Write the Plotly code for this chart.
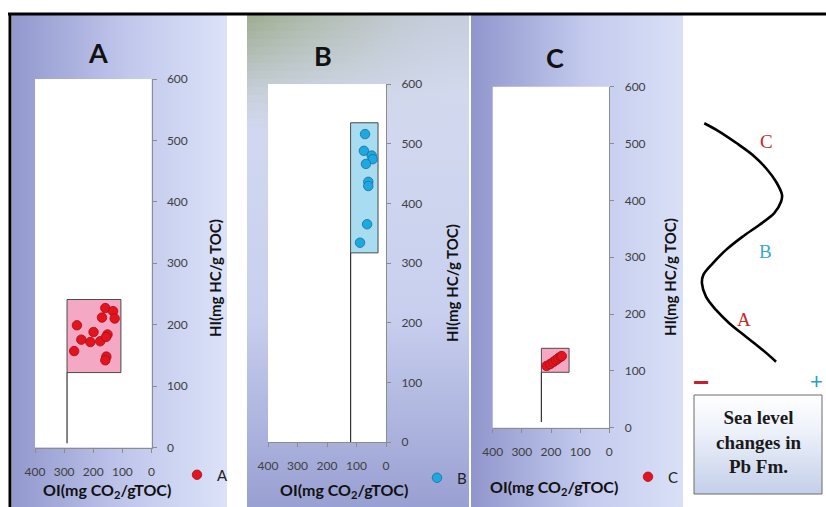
import plotly.graph_objects as go

# ---------------- data ----------------
oi_A = [158.6, 132, 170, 126.5, 256, 199, 151, 241, 210, 176, 156, 265.5, 155, 158.6]
hi_A = [227, 222, 211.5, 210, 199, 188, 184, 175.6, 171.7, 173, 180, 157, 148, 142]
oi_B = [71, 75, 48.5, 45, 68, 60, 60, 64, 88]
hi_B = [516, 488, 480, 474, 466, 436, 429, 365, 334]
oi_C = [215, 203, 192, 183, 175, 167, 163]
hi_C = [108.6, 112, 115.6, 119, 122, 125, 126]

# range boxes (OI left/right, HI bottom/top) and the stem below each box
box_oi = {"A": [290, 105], "B": [120, 27], "C": [233, 138]}
box_hi = {"A": [122, 241], "B": [317, 535], "C": [97.5, 139.7]}
stem_hi0 = {"A": 7, "B": 0, "C": 10}

oi_ticks = [400, 300, 200, 100, 0]
hi_ticks = [0, 100, 200, 300, 400, 500, 600]

# sea-level sketch (relative units: x = sea level -/+, y = time upward)
sea_x = [1.10, 2.25, 3.54, 4.82, 5.85, 6.62, 7.08, 7.0, 6.48, 5.33, 4.05, 2.77,
         1.75, 1.02, 0.92, 1.23, 2.0, 3.02, 4.31, 5.59, 6.62]
sea_y = [9.49, 9.17, 8.74, 8.27, 7.76, 7.24, 6.73, 6.47, 6.03, 5.58, 5.13, 4.62,
         4.10, 3.65, 3.33, 2.82, 2.31, 1.80, 1.28, 0.77, 0.32]
sea_labels = ["A", "B", "C"]
sea_label_x = [4.15, 5.77, 5.92]
sea_label_y = [1.96, 4.54, 8.77]

# ---------------- layout geometry (pixels) ----------------
W, H = 826, 507
def px(x): return x / W
def py(y): return 1 - y / H

geo = {"A": (35, 151.5, 79, 447.5), "B": (268, 386, 84, 442), "C": (492.7, 609.3, 86.7, 427.7)}
panel_bg = {"A": (12, 227), "B": (247, 469), "C": (471, 683)}

FONT = "Lato"
red = "#e4141e"
red_edge = "#a50f15"
blue = "#1ea8e0"
blue_edge = "#1b6f9c"
pink = "#f5a8c4"
cyan = "#a8dcf1"

fig = go.Figure()

def rect(x0, x1, y0, y1):
    return [x0, x1, x1, x0, x0], [y0, y0, y1, y1, y0]

def deco(xs, ys, **kw):
    fig.add_trace(go.Scatter(x=xs, y=ys, mode="lines", fill="toself", hoverinfo="skip",
                             showlegend=False, xaxis="x", yaxis="y", **kw))

# background decoration on a full-figure pixel axis
grads = {
    "A": dict(type="horizontal", colorscale=[[0, "#9298cd"], [0.55, "#c2c8ec"], [1, "#dbe2f8"]]),
    "B": dict(type="vertical", start=15, stop=507,
              colorscale=[[0, "#c6cddc"], [0.16, "#d2d9ee"], [0.6, "#c9d0ef"], [1, "#99a0d2"]]),
    "C": dict(type="horizontal", colorscale=[[0, "#9096cc"], [0.55, "#c4cbee"], [1, "#d9e0f6"]]),
}
for k in ["A", "B", "C"]:
    x0, x1 = panel_bg[k]
    xs, ys = rect(x0, x1, 15, 507)
    deco(xs, ys, line=dict(width=0), fillgradient=grads[k])
    if k == "B":
        # greenish haze fading downward from the upper-left corner of panel B
        n = 14
        for j in range(n):
            a = 0.8 * (1 - j / n) ** 1.3
            xs, ys = rect(x0, x1, 15 + j * 8, 15 + (j + 1) * 8)
            deco(xs, ys, line=dict(width=0),
                 fillgradient=dict(type="horizontal",
                                   colorscale=[[0, f"rgba(150,166,128,{a:.3f})"],
                                               [0.5, f"rgba(172,184,160,{a * 0.55:.3f})"],
                                               [1, "rgba(200,208,225,0.0)"]]))
    l, r, t, b = geo[k]
    xs, ys = rect(l, r, t, b)
    deco(xs, ys, line=dict(width=0), fillcolor="white")

# sea-level caption box
xs, ys = rect(694, 822, 395, 494)
deco(xs, ys, line=dict(width=1, color="#6b6b6b"),
     fillgradient=dict(type="vertical", start=395, stop=494,
                       colorscale=[[0, "#ffffff"], [0.35, "#eef2fa"], [1, "#c3cfe9"]]))

series = {
    "A": (oi_A, hi_A, red, red_edge, pink, "legend"),
    "B": (oi_B, hi_B, blue, blue_edge, cyan, "legend2"),
    "C": (oi_C, hi_C, red, red_edge, pink, "legend3"),
}

for i, k in enumerate(["A", "B", "C"], start=2):
    oi, hi, col, edge, bfill, leg = series[k]
    xa, ya = f"x{i}", f"y{i}"
    bx, by = rect(box_oi[k][0], box_oi[k][1], box_hi[k][0], box_hi[k][1])
    fig.add_trace(go.Scatter(x=bx, y=by, mode="lines", fill="toself", fillcolor=bfill,
                             line=dict(color="#4a4a4a", width=1), hoverinfo="skip",
                             showlegend=False, xaxis=xa, yaxis=ya))
    fig.add_trace(go.Scatter(x=[box_oi[k][0], box_oi[k][0]], y=[stem_hi0[k], box_hi[k][0]],
                             mode="lines", line=dict(color="#333333", width=1.2),
                             hoverinfo="skip", showlegend=False, xaxis=xa, yaxis=ya))
    fig.add_trace(go.Scatter(x=oi, y=hi, mode="markers", name=k, legend=leg,
                             marker=dict(size=9.5, color=col, line=dict(color=edge, width=0.8)),
                             xaxis=xa, yaxis=ya))

# sea-level curve
fig.add_trace(go.Scatter(x=sea_x, y=sea_y, mode="lines", line=dict(color="black", width=2.6, shape="spline", smoothing=1),
                         hoverinfo="skip", showlegend=False, xaxis="x5", yaxis="y5"))

axis_font = dict(family=FONT, size=12, color="#404040")
layout = dict(
    width=W, height=H, autosize=False,
    margin=dict(l=0, r=0, t=0, b=0, pad=0, autoexpand=False),
    paper_bgcolor="white", plot_bgcolor="rgba(0,0,0,0)",
    xaxis=dict(domain=[0, 1], range=[0, W], visible=False, fixedrange=True, automargin=False),
    yaxis=dict(domain=[0, 1], range=[H, 0], visible=False, fixedrange=True, automargin=False),
    xaxis5=dict(domain=[px(690), px(820)], range=[0, 10], visible=False, anchor="y5", fixedrange=True, automargin=False),
    yaxis5=dict(domain=[py(370), py(110)], range=[0, 10], visible=False, anchor="x5", fixedrange=True, automargin=False),
    showlegend=True,
)
for i, k in enumerate(["A", "B", "C"], start=2):
    l, r, t, b = geo[k]
    layout[f"xaxis{i}"] = dict(domain=[px(l), px(r)], range=[400, 0], anchor=f"y{i}",
                               tickvals=oi_ticks, ticks="outside", ticklen=4, tickcolor="#8c8c8c",
                               showline=True, linecolor="#8c8c8c", linewidth=1, showgrid=False,
                               zeroline=False, tickfont=axis_font, ticklabelstandoff=9, fixedrange=True,
                               automargin=False)
    layout[f"yaxis{i}"] = dict(domain=[py(b), py(t)], range=[0, 600], anchor=f"x{i}", side="right",
                               tickvals=hi_ticks, ticks="outside", ticklen=4, tickcolor="#8c8c8c",
                               showline=True, linecolor="#8c8c8c", linewidth=1, showgrid=False,
                               zeroline=False, tickfont=axis_font, ticklabelstandoff=8, fixedrange=True,
                               automargin=False)

leg_common = dict(xanchor="left", yanchor="middle", bgcolor="rgba(0,0,0,0)",
                  font=dict(family=FONT, size=15, color="#222222"), itemwidth=30)
layout["legend"] = dict(x=px(177), y=py(475), **leg_common)
layout["legend2"] = dict(x=px(417), y=py(478), **leg_common)
layout["legend3"] = dict(x=px(628), y=py(477), **leg_common)
fig.update_layout(**layout)

ann = []
def note(x, y, text, font, xref="paper", yref="paper", **kw):
    ann.append(dict(x=x, y=y, xref=xref, yref=yref, text=text, showarrow=False,
                    xanchor="center", yanchor="middle", font=font, **kw))

titles = {"A": (98, 53), "B": (323, 55), "C": (555, 57)}
for k, (x, y) in titles.items():
    note(px(x), py(y), f"<b>{k}</b>", dict(family=FONT, size=27, color="#111111"))
xt = {"A": (107, 490), "B": (344, 490), "C": (554, 487)}
for k, (x, y) in xt.items():
    note(px(x), py(y), "<b>OI(mg CO<sub>2</sub>/gTOC)</b>", dict(family=FONT, size=16, color="#111111"))
yt = {"A": (215, 278), "B": (452, 283), "C": (670, 277)}
for k, (x, y) in yt.items():
    note(px(x), py(y), "<b>HI(mg HC/g TOC)</b>", dict(family=FONT, size=15, color="#111111"), textangle=-90)
lab_col = {"A": "#c62a2a", "B": "#3aa7cc", "C": "#c62a2a"}
for lab, x, y in zip(sea_labels, sea_label_x, sea_label_y):
    note(x, y, lab, dict(family="Liberation Serif", size=19, color=lab_col[lab]), xref="x5", yref="y5")
note(px(701), py(382), "<b>−</b>", dict(family="Liberation Sans", size=28, color="#c8202a"))
note(px(816), py(381), "+", dict(family="Liberation Sans", size=22, color="#2a9fc4"))
note(px(758), py(442), "<b>Sea level<br>changes in<br>Pb Fm.</b>",
     dict(family="Liberation Serif", size=19, color="#1a1a1a"))
fig.update_layout(annotations=ann)

fig.update_layout(shapes=[
    dict(type="line", xref="paper", yref="paper", x0=px(8), x1=1, y0=py(14), y1=py(14),
         line=dict(color="black", width=3), layer="above"),
    dict(type="line", xref="paper", yref="paper", x0=px(10), x1=px(10), y0=py(13), y1=0,
         line=dict(color="black", width=3), layer="above"),
])

fig.write_html("out.html", config={"displayModeBar": False},
               post_script="document.body.style.margin='0';document.body.style.overflow='hidden';")
